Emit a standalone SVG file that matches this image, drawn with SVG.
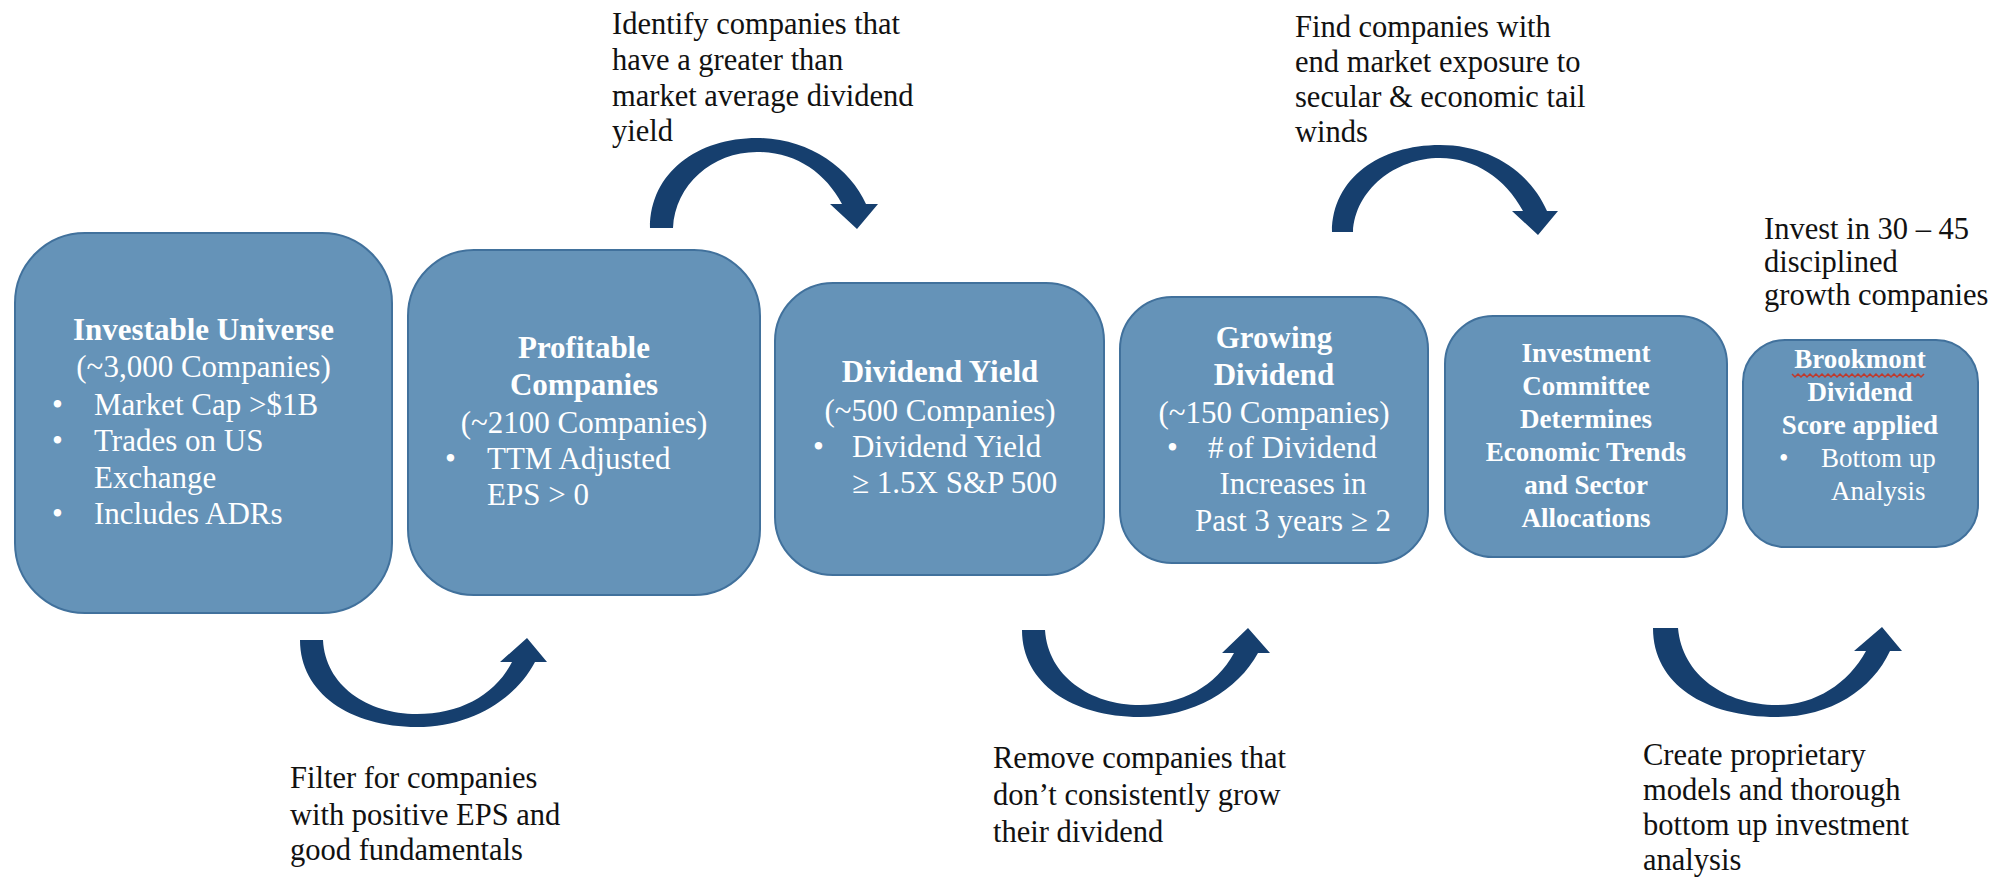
<svg xmlns="http://www.w3.org/2000/svg" width="1993" height="880" viewBox="0 0 1993 880">
<style>
.box{fill:#6593b8;stroke:#41719c;stroke-width:2}
.t{font-family:"Liberation Serif","Times New Roman",serif;fill:#ffffff;font-size:31px}
.tc{text-anchor:middle}
.b{font-weight:bold}
.s{font-size:27px}
.ann{font-family:"Liberation Serif","Times New Roman",serif;fill:#111111;font-size:30.5px}
.arr{fill:#163f6e}
</style>
<rect width="1993" height="880" fill="#ffffff"/>
<g id="connectors">
<path class="arr" d="M650,228 C650,172 698,138 757,138 C808,138 850,168 866,204 L878,204 L857,229 L830,204 L842,204 C825,172 795,152 757,152 C712,152 675,185 673,228 Z"/>
<path class="arr" d="M1332,232 C1332,178 1380,145 1440,145 C1490,145 1530,172 1547,211 L1558,211 L1538,235 L1512,211 L1523,211 C1505,178 1475,158 1440,158 C1395,158 1355,190 1353,232 Z"/>
<path class="arr" d="M300,640 C300,693 350,727 417,727 C470,727 515,700 535,662 L547,662 L527,638 L500,662 L512,662 C495,695 460,714 417,714 C367,714 325,685 323,640 Z"/>
<path class="arr" d="M1022,630 C1022,683 1072,717 1140,717 C1193,717 1238,690 1258,653 L1270,653 L1248,628 L1222,653 L1234,653 C1216,686 1182,705 1140,705 C1090,705 1048,676 1045,630 Z"/>
<path class="arr" d="M1653,628 C1653,684 1705,717 1777,717 C1830,717 1872,690 1890,651 L1902,651 L1882,627 L1854,651 L1866,651 C1848,684 1815,705 1777,705 C1725,705 1682,675 1678,628 Z"/>
</g>
<g id="annotations">
<text class="ann" x="612"><tspan x="612" y="34">Identify companies that</tspan><tspan x="612" y="70">have a greater than</tspan><tspan x="612" y="106">market average dividend</tspan><tspan x="612" y="141">yield</tspan></text>
<text class="ann" x="1295"><tspan x="1295" y="37">Find companies with</tspan><tspan x="1295" y="72">end market exposure to</tspan><tspan x="1295" y="107">secular &amp; economic tail</tspan><tspan x="1295" y="142">winds</tspan></text>
<text class="ann" x="1764"><tspan x="1764" y="239">Invest in 30 – 45</tspan><tspan x="1764" y="272">disciplined</tspan><tspan x="1764" y="305">growth companies</tspan></text>
<text class="ann" x="290"><tspan x="290" y="788">Filter for companies</tspan><tspan x="290" y="825">with positive EPS and</tspan><tspan x="290" y="860">good fundamentals</tspan></text>
<text class="ann" x="993"><tspan x="993" y="768">Remove companies that</tspan><tspan x="993" y="805">don’t consistently grow</tspan><tspan x="993" y="842">their dividend</tspan></text>
<text class="ann" x="1643"><tspan x="1643" y="765">Create proprietary</tspan><tspan x="1643" y="800">models and thorough</tspan><tspan x="1643" y="835">bottom up investment</tspan><tspan x="1643" y="870">analysis</tspan></text>
</g>
<g id="node-universe">
<rect class="box" x="15" y="233" width="377" height="380" rx="70" ry="70"/>
<text class="t tc b" x="203.5" y="340">Investable Universe</text>
<text class="t tc" x="203.5" y="377">(~3,000 Companies)</text>
<text class="t" x="52" y="415">•</text><text class="t" x="94" y="415">Market Cap &gt;$1B</text>
<text class="t" x="52" y="451">•</text><text class="t" x="94" y="451">Trades on US</text>
<text class="t" x="94" y="488">Exchange</text>
<text class="t" x="52" y="524">•</text><text class="t" x="94" y="524">Includes ADRs</text>
</g>
<g id="node-profitable">
<rect class="box" x="408" y="250" width="352" height="345" rx="66" ry="66"/>
<text class="t tc b" x="584" y="358">Profitable</text>
<text class="t tc b" x="584" y="395">Companies</text>
<text class="t tc" x="584" y="433">(~2100 Companies)</text>
<text class="t" x="445" y="469">•</text><text class="t" x="487" y="469">TTM Adjusted</text>
<text class="t" x="487" y="505">EPS &gt; 0</text>
</g>
<g id="node-yield">
<rect class="box" x="775" y="283" width="329" height="292" rx="58" ry="58"/>
<text class="t tc b" x="940" y="382">Dividend Yield</text>
<text class="t tc" x="940" y="421">(~500 Companies)</text>
<text class="t" x="813" y="457">•</text><text class="t" x="852" y="457">Dividend Yield</text>
<text class="t" x="852" y="493">≥ 1.5X S&amp;P 500</text>
</g>
<g id="node-growing">
<rect class="box" x="1120" y="297" width="308" height="266" rx="52" ry="52"/>
<text class="t tc b" x="1274" y="348">Growing</text>
<text class="t tc b" x="1274" y="385">Dividend</text>
<text class="t tc" x="1274" y="423">(~150 Companies)</text>
<text class="t" x="1167" y="458">•</text><text class="t" x="1208" y="458">#</text><text class="t" x="1228" y="458">of Dividend</text>
<text class="t tc" x="1293" y="494">Increases in</text>
<text class="t tc" x="1293" y="531">Past 3 years ≥ 2</text>
</g>
<g id="node-committee">
<rect class="box" x="1445" y="316" width="282" height="241" rx="48" ry="48"/>
<text class="t tc b s" x="1586" y="362">Investment</text>
<text class="t tc b s" x="1586" y="395">Committee</text>
<text class="t tc b s" x="1586" y="428">Determines</text>
<text class="t tc b s" x="1586" y="461">Economic Trends</text>
<text class="t tc b s" x="1586" y="494">and Sector</text>
<text class="t tc b s" x="1586" y="527">Allocations</text>
</g>
<g id="node-brookmont">
<rect class="box" x="1743" y="340" width="235" height="207" rx="42" ry="42"/>
<text class="t tc b s" x="1860" y="368">Brookmont</text>
<path d="M1792,374 l3,3 l3,-3 l3,3 l3,-3 l3,3 l3,-3 l3,3 l3,-3 l3,3 l3,-3 l3,3 l3,-3 l3,3 l3,-3 l3,3 l3,-3 l3,3 l3,-3 l3,3 l3,-3 l3,3 l3,-3 l3,3 l3,-3 l3,3 l3,-3 l3,3 l3,-3 l3,3 l3,-3 l3,3 l3,-3 l3,3 l3,-3 l3,3 l3,-3 l3,3 l3,-3 l3,3 l3,-3 l3,3 l3,-3 l3,3 l3,-3" fill="none" stroke="#c0392b" stroke-width="1.5"/>
<text class="t tc b s" x="1860" y="401">Dividend</text>
<text class="t tc b s" x="1860" y="434">Score applied</text>
<text class="t s" x="1779" y="467">•</text><text class="t s" x="1821" y="467">Bottom up</text>
<text class="t s" x="1831" y="500">Analysis</text>
</g>
</svg>
